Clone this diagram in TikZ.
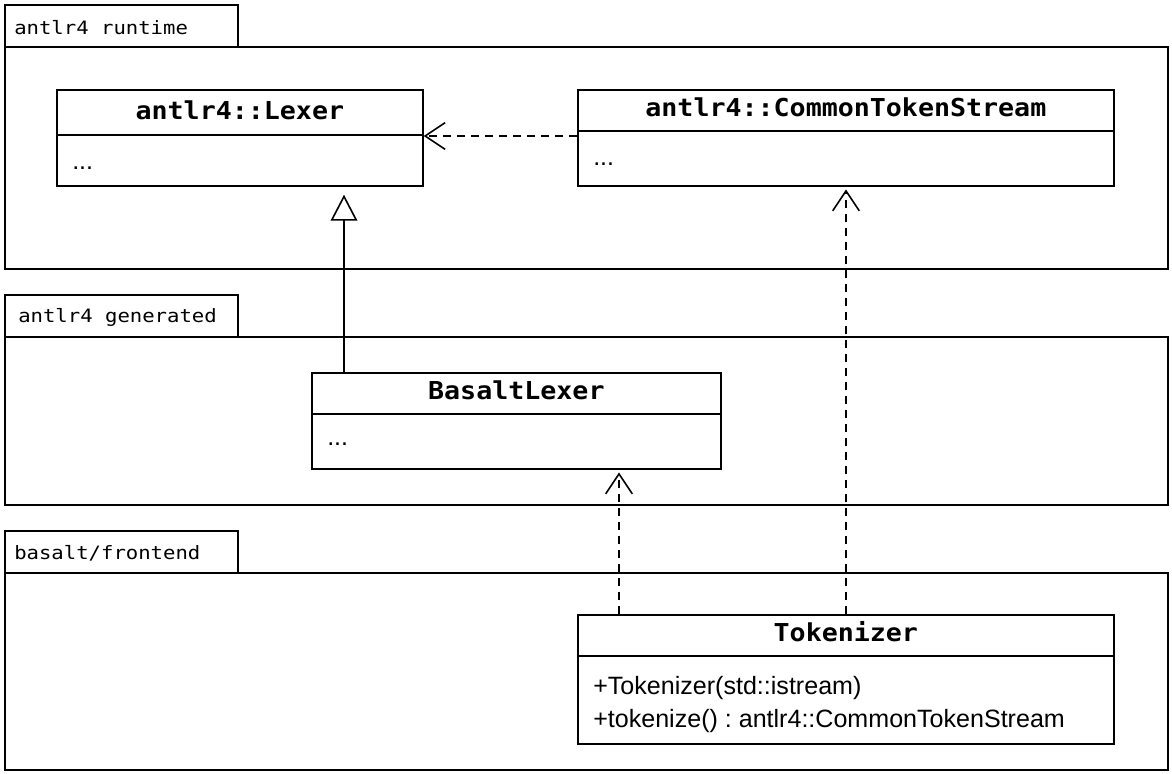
\documentclass[tikz,border=0pt]{standalone}
\usepackage{fontspec}
\setmainfont{Liberation Sans}
\newfontfamily\titlefont[FakeStretch=1.08]{DejaVu Sans Mono}
\newfontfamily\tabfont[FakeStretch=1.12]{DejaVu Sans Mono}
\usepackage{tikz}
\usetikzlibrary{arrows.meta, positioning}
\frenchspacing

\tikzset{
  pkgtab/.style = {draw, line width=1.3pt, anchor=north west, inner sep=0pt,
    minimum width=174.75pt, minimum height=31.5pt},
  pkgbody/.style = {draw, line width=1.3pt, anchor=north west, inner sep=0pt,
    minimum width=872.25pt},
  pkglabel/.style = {anchor=west, xshift=7.5pt, yshift=-1pt, inner sep=0pt,
    font=\tabfont\fontsize{13.8}{16}\selectfont},
  classbox/.style = {draw, line width=1.3pt, anchor=north west, inner sep=0pt},
  classline/.style = {line width=1.3pt},
  classtitle/.style = {inner sep=0pt, font=\titlefont\bfseries\fontsize{18.5}{20}\selectfont},
  member/.style = {anchor=base west, inner sep=0pt, font=\fontsize{18.8}{21}\selectfont},
  depend/.style = {line width=1.2pt, dash pattern=on 6pt off 4.5pt,
    -{Straight Barb[length=15pt, width=20pt, line width=1.2pt]}},
  inherit/.style = {line width=1.2pt,
    -{Triangle[open, length=19.5pt, width=20pt, line width=1.2pt, fill=white]}},
}

\begin{document}
\begin{tikzpicture}[x=0.75pt, y=-0.75pt]
  \useasboundingbox (0,0) rectangle (1172,774);

  % packages
  \node[pkgbody, minimum height=166.5pt] (runtime) at (4,46) {};
  \node[pkgtab] (runtimetab) at (4,4) {};
  \node[pkglabel] (runtimelabel) at (runtimetab.west) {antlr4 runtime};

  \node[pkgbody, minimum height=126pt] (generated) at (4,336) {};
  \node[pkgtab] (generatedtab) at (4,294) {};
  \node[pkglabel, xshift=3pt] (generatedlabel) at (generatedtab.west) {antlr4 generated};

  \node[pkgbody, minimum height=147.75pt] (frontend) at (4,572) {};
  \node[pkgtab] (frontendtab) at (4,530) {};
  \node[pkglabel] (frontendlabel) at (frontendtab.west) {basalt/frontend};

  % classes
  \node[classbox, minimum width=274.5pt, minimum height=72pt] (lexer) at (56,89) {};
  \draw[classline] (lexer.west |- 0,135) -- (lexer.east |- 0,135);
  \node[classtitle] (lexertitle) at (lexer.north |- 0,110) {antlr4::Lexer};
  \node[member] (lexermembers) at (72,170) {...};

  \node[classbox, minimum width=402pt, minimum height=72pt] (cts) at (577,89) {};
  \draw[classline] (cts.west |- 0,131) -- (cts.east |- 0,131);
  \node[classtitle] (ctstitle) at (cts.north |- 0,107) {antlr4::CommonTokenStream};
  \node[member] (ctsmembers) at (593,166) {...};

  \node[classbox, minimum width=306.75pt, minimum height=72pt] (basalt) at (311,372) {};
  \draw[classline] (basalt.west |- 0,414) -- (basalt.east |- 0,414);
  \node[classtitle] (basalttitle) at (basalt.north |- 0,390) {BasaltLexer};
  \node[member] (basaltmembers) at (327,445) {...};

  \node[classbox, minimum width=402pt, minimum height=96.75pt] (tokenizer) at (577,614) {};
  \draw[classline] (tokenizer.west |- 0,656) -- (tokenizer.east |- 0,656);
  \node[classtitle] (tokenizertitle) at (tokenizer.north |- 0,632) {Tokenizer};
  \node[member] (tokenizerctor) at (593,694) {+Tokenizer(std::istream)};
  \node[member] (tokenizermethod) at (593,727) {+tokenize() : antlr4::CommonTokenStream};

  % relations
  \draw[depend] (cts.west |- 0,136) -- (lexer.east |- 0,136);
  \draw[inherit, shorten >=6pt] (basalt.north -| 344,0) -- (lexer.south -| 344,0);
  \draw[depend, shorten >=2pt] (tokenizer.north -| 619,0) -- (basalt.south -| 619,0);
  \draw[depend, shorten >=2pt] (tokenizer.north -| 846,0) -- (cts.south -| 846,0);
\end{tikzpicture}
\end{document}
